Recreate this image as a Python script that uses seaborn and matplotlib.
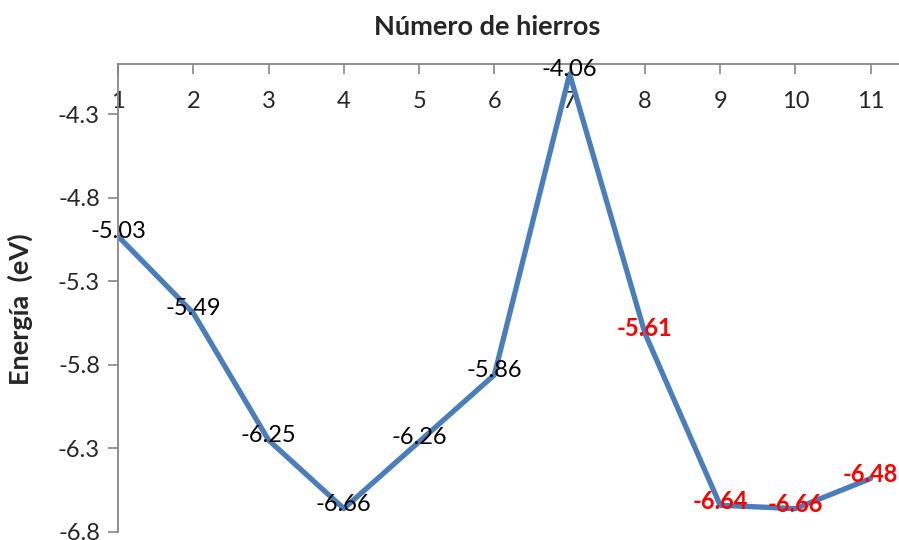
import matplotlib
matplotlib.use("Agg")
import matplotlib.pyplot as plt
import seaborn as sns
import pandas as pd

sns.set_theme(style="white")
plt.rcParams["font.family"] = ["Lato", "DejaVu Sans"]

# Iron atom count vs. energy
n_hierros = [1, 2, 3, 4, 5, 6, 7, 8, 9, 10, 11]
energia = [-5.03, -5.49, -6.25, -6.66, -6.26, -5.86, -4.06, -5.61, -6.64, -6.66, -6.48]
resaltado = [False, False, False, False, False, False, False, True, True, True, True]
y_ticks = [-6.8, -6.3, -5.8, -5.3, -4.8, -4.3]

df = pd.DataFrame({"n": n_hierros, "E": energia, "rojo": resaltado})

fig = plt.figure(figsize=(8.99, 5.40), dpi=100)
ax = fig.add_axes([118 / 899, 8 / 540, 1 - 118 / 899, (532 - 64) / 540])

sns.lineplot(data=df, x="n", y="E", ax=ax, color="#4a7ebb", linewidth=3.8,
             solid_joinstyle="round", solid_capstyle="round", zorder=2)

for n, e, r in zip(df["n"], df["E"], df["rojo"]):
    ax.annotate(f"{e:.2f}", (n, e), xytext=(0, 3),
                textcoords="offset points", ha="center", va="center",
                fontsize=17, color="red" if r else "black",
                fontweight="bold" if r else "normal", zorder=3)

ax.set_xlim(1, 11.376)
ax.set_ylim(-6.8, -4.0)
ax.set_xticks(n_hierros)
ax.set_xticklabels([str(v) for v in n_hierros])
ax.set_yticks(y_ticks)
ax.set_yticklabels([f"{v:.1f}" for v in y_ticks])

ax.xaxis.tick_top()
ax.tick_params(axis="x", direction="in", length=7, width=1.2, color="#868686",
               pad=-27, labelsize=17, top=True, bottom=False)
ax.tick_params(axis="y", direction="out", length=7, width=1.2, color="#868686",
               pad=6, labelsize=17, left=True)
for lbl in ax.get_xticklabels():
    lbl.set_verticalalignment("center")

for side in ["right", "bottom"]:
    ax.spines[side].set_visible(False)
for side in ["top", "left"]:
    ax.spines[side].set_color("#868686")
    ax.spines[side].set_linewidth(1.3)

ax.set_xlabel("")
ax.set_ylabel("")
fig.text(487 / 899, 1 - 27 / 540, "Número de hierros", ha="center", va="center",
         fontsize=19.5, fontweight="bold")
fig.text(20 / 899, 1 - 309 / 540, "Energía  (eV)", ha="center", va="center",
         rotation=90, fontsize=19.5, fontweight="bold")

fig.savefig("out.png", dpi=100)
